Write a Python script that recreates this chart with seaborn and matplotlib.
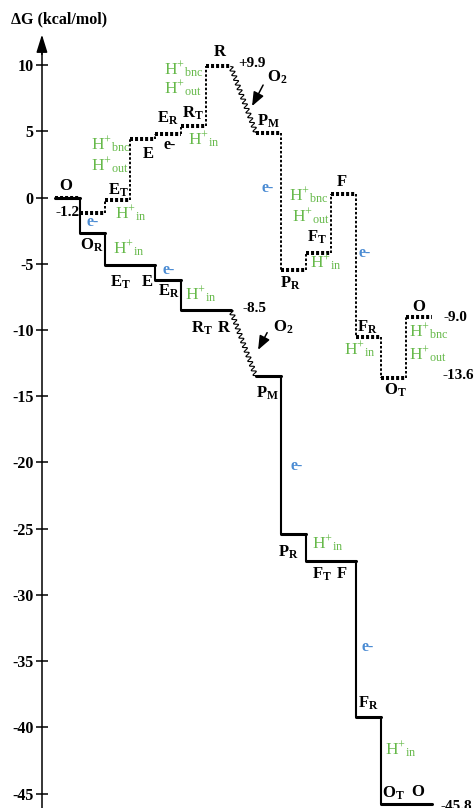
import numpy as np
import pandas as pd
import matplotlib
matplotlib.use("Agg")
import matplotlib.pyplot as plt
import seaborn as sns

# Intermediates of the catalytic cycle, in order
states = ["O", "O_R", "E_T", "E", "E_R", "R_T", "R", "P_M", "P_R", "F_T", "F", "F_R", "O_T", "O"]
# Free energy (kcal/mol) of each intermediate on the two pathways
dotted_dG = [0.0, -1.2, -0.2, 4.4, 4.8, 5.4, 9.9, 4.9, -5.5, -4.2, 0.3, -10.5, -13.6, -9.0]
solid_dG = [0.0, -2.7, -5.1, -5.1, -6.2, -8.5, -8.5, -13.5, -25.4, -27.4, -27.4, -39.2, -45.8, -45.8]
# Axis ticks
yticks = [10, 5, 0, -5, -10, -15, -20, -25, -30, -35, -40, -45]
ytick_labels = [str(t) for t in yticks]

sns.set_theme(style="white")
plt.rcParams["font.family"] = ["Liberation Serif", "DejaVu Serif"]
plt.rcParams["mathtext.fontset"] = "custom"
plt.rcParams["mathtext.rm"] = "Liberation Serif"
plt.rcParams["mathtext.bf"] = "Liberation Serif:bold"
plt.rcParams["mathtext.it"] = "Liberation Serif:italic"
plt.rcParams["axes.unicode_minus"] = False

GREEN = "#66b94a"
BLUE = "#4a8bd3"

W, H = 475, 808
fig = plt.figure(figsize=(W / 100, H / 100), dpi=100)
ax = fig.add_axes([0, 0, 1, 1])
ax.set_xlim(-2.19, 16.73)
ax.set_ylim(-46.08, 14.91)

# one slot per intermediate, with an extra slot kept free for O2 binding (R -> P_M)
slot = np.arange(len(states), dtype=float)
o2_idx = states.index("P_M")
slot[o2_idx:] += 1


def draw_path(levels, style):
    dotted = style == "dotted"
    h_rows, v_rows = [], []
    for i, v in enumerate(levels):
        h_rows += [dict(x=slot[i], y=v, seg=i), dict(x=slot[i] + 1, y=v, seg=i)]
    for i in range(len(levels) - 1):
        if i + 1 == o2_idx or levels[i] == levels[i + 1]:
            continue
        x = slot[i] + 1
        v_rows += [dict(x=x, y=levels[i], seg=i), dict(x=x, y=levels[i + 1], seg=i)]
    h = pd.DataFrame(h_rows)
    v = pd.DataFrame(v_rows)
    if dotted:
        hk = dict(lw=2.9, linestyle=(0, (0.75, 0.5)), dash_capstyle="butt")
        vk = dict(lw=1.4, linestyle=(0, (1.3, 1.0)), dash_capstyle="butt")
    else:
        hk = dict(lw=2.2, linestyle="-")
        vk = dict(lw=1.5, linestyle="-")
    sns.lineplot(data=v, x="x", y="y", units="seg", estimator=None, sort=False,
                 color="black", ax=ax, legend=False, **vk)
    sns.lineplot(data=h, x="x", y="y", units="seg", estimator=None, sort=False,
                 color="black", ax=ax, legend=False, **hk)
    # squiggle for the O2 binding step
    p0 = (slot[o2_idx - 1] + 1, levels[o2_idx - 1])
    p1 = (slot[o2_idx], levels[o2_idx])
    t = ax.transData
    a, b = t.transform(p0), t.transform(p1)
    d = b - a
    L = np.hypot(*d)
    u = d / L
    n = np.array([-u[1], u[0]])
    s = np.linspace(0, L, int(L * 8))
    amp = 2.2 * np.sin(2 * np.pi * s / 5.0) * np.clip(np.minimum(s, L - s) / 1.5, 0, 1)
    pts = a + np.outer(s, u) + np.outer(amp, n)
    dpts = t.inverted().transform(pts)
    sns.lineplot(x=dpts[:, 0], y=dpts[:, 1], sort=False, estimator=None,
                 color="black", lw=0.8, ax=ax)


draw_path(solid_dG, "solid")
draw_path(dotted_dG, "dotted")

# vertical energy axis with arrow
x_axis = -0.52
for side in ["top", "right", "bottom"]:
    ax.spines[side].set_visible(False)
ax.spines["left"].set_position(("data", x_axis))
ax.spines["left"].set_bounds(-46.08, 11.5)
ax.spines["left"].set_linewidth(1.1)
ax.spines["left"].set_color("black")
ax.annotate("", xy=(x_axis, 12.3), xytext=(x_axis, 10.8),
            arrowprops=dict(arrowstyle="-|>,head_length=0.9,head_width=0.28",
                            color="black", lw=1.1, shrinkA=0, shrinkB=0))
ax.set_xticks([])
ax.set_yticks(yticks)
ax.set_yticklabels(ytick_labels)
ax.tick_params(axis="y", direction="inout", length=8, width=1.1, pad=2,
               labelsize=11.5, colors="black", left=True)
for lab in ax.get_yticklabels():
    lab.set_fontweight("bold")
ax.set_xlabel("")
ax.set_ylabel("")
ax.grid(False)

fig.text(11 / W, 1 - 19 / H, "ΔG (kcal/mol)", ha="left", va="center",
         fontsize=11.5, fontweight="bold", color="black")


def state(txt, x, y, **kw):
    if "_" in txt:
        base, sub = txt.split("_")
        txt = r"$\mathbf{%s}_{\mathbf{%s}}$" % (base, sub)
    ax.text(x, y, txt, ha="center", va="center", fontsize=12,
            fontweight="bold", color="black", **kw)


def proton(sub, x, y):
    ax.text(x, y, r"$\mathrm{H}^{+}{}_{\mathrm{%s}}$" % sub, ha="left",
            va="center", fontsize=12.5, color=GREEN)


def electron(x, y, color=BLUE):
    ax.text(x, y, "e-", ha="center", va="center", fontsize=11.5,
            fontweight="bold", color=color)


def number(txt, x, y, ha="left"):
    ax.text(x, y, txt, ha=ha, va="center", fontsize=11,
            fontweight="bold", color="black")


def o2_arrow(tail, head):
    ax.annotate("", xy=head, xytext=tail,
                arrowprops=dict(arrowstyle="-|>,head_length=0.7,head_width=0.28",
                                color="black", lw=1.1, shrinkA=0, shrinkB=0))


# upper (dotted) pathway annotations
state("O", 0.44, 0.9)
number(f"{dotted_dG[1]:.1f}", 1.0, -1.1, ha="right")
electron(1.51, -1.85)
state("E_T", 2.51, 0.55)
proton("in", 2.39, -1.25)
proton("bnc", 1.45, 4.0)
proton("out", 1.45, 2.4)
state("E", 3.71, 3.25)
electron(4.58, 3.96, color="black")
state("E_R", 4.5, 5.95)
state("R_T", 5.5, 6.35)
proton("in", 5.3, 4.34)
proton("bnc", 4.33, 9.65)
proton("out", 4.33, 8.2)
state("R", 6.57, 11.0)
number(f"+{dotted_dG[6]:.1f}", 7.29, 10.15)
state("O_2", 8.85, 9.1)
o2_arrow((8.29, 8.49), (7.85, 6.9))
state("P_M", 8.49, 5.75)
electron(8.49, 0.72)
proton("bnc", 9.33, 0.15)
proton("out", 9.45, -1.45)
state("F", 11.43, 1.2)
state("F_T", 10.44, -3.0)
electron(12.35, -4.19)
proton("in", 10.16, -4.94)
state("P_R", 9.36, -6.5)
state("F_R", 12.43, -9.8)
proton("in", 11.5, -11.5)
state("O_T", 13.55, -14.55)
state("O", 14.5, -8.3)
number(f"{dotted_dG[13]:.1f}", 15.46, -9.09)
proton("bnc", 14.1, -10.15)
proton("out", 14.1, -11.85)
number(f"{dotted_dG[12]:.1f}", 15.42, -13.4)

# lower (solid) pathway annotations
state("O_R", 1.47, -3.6)
proton("in", 2.31, -3.89)
state("E_T", 2.59, -6.4)
state("E", 3.67, -6.4)
electron(4.54, -5.47)
state("E_R", 4.54, -7.1)
proton("in", 5.18, -7.36)
state("R_T", 5.86, -9.9)
state("R", 6.73, -9.85)
number(f"{solid_dG[6]:.1f}", 7.45, -8.34)
state("O_2", 9.1, -9.8)
o2_arrow((8.45, -10.2), (8.09, -11.5))
state("P_M", 8.45, -14.75)
electron(9.64, -20.3)
state("P_R", 9.28, -26.8)
proton("in", 10.24, -26.15)
state("F_T", 10.64, -28.45)
state("F", 11.43, -28.4)
electron(12.47, -33.9)
state("F_R", 12.47, -38.2)
proton("in", 13.15, -41.7)
state("O_T", 13.47, -44.95)
state("O", 14.46, -44.9)
number(f"{solid_dG[12]:.1f}", 15.34, -45.95)

fig.savefig("out.png", dpi=100)
